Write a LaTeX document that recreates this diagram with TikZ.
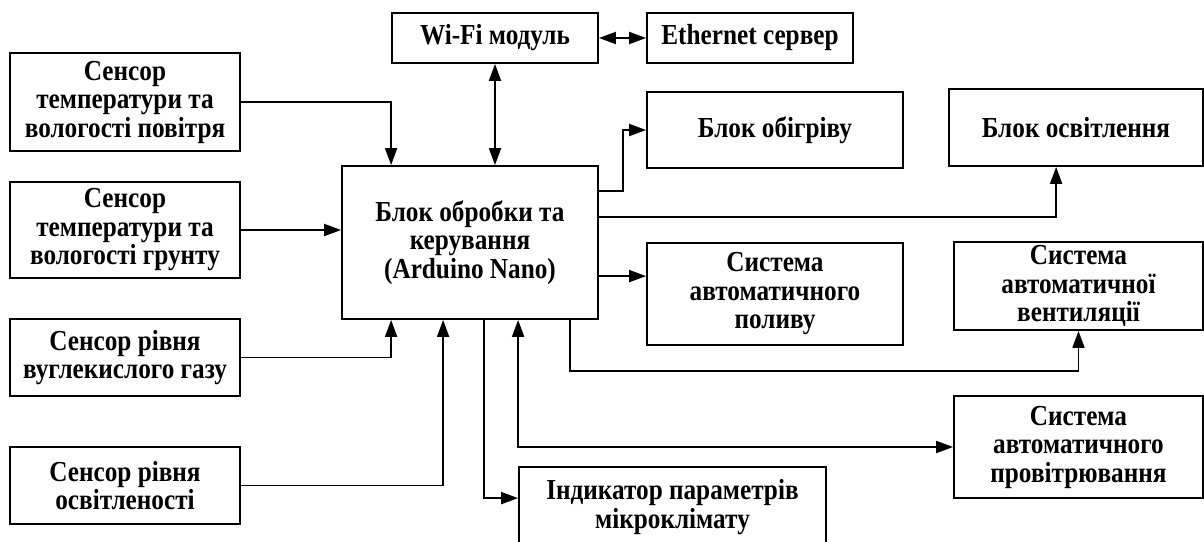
\documentclass[tikz,border=0pt]{standalone}
\usepackage{fontspec}
\setmainfont{Liberation Serif}[FakeStretch=0.87]
\usetikzlibrary{arrows.meta,calc}
\begin{document}
\begin{tikzpicture}[x=1pt,y=-1pt,
  box/.style={draw,line width=1.8pt,inner sep=0pt,align=center,
    font=\fontsize{29}{28.5}\selectfont\bfseries},
  arr/.style={line width=1.8pt,-{Triangle[length=17pt,width=12pt]}},
  darr/.style={line width=1.8pt,{Triangle[length=17pt,width=12pt]}-{Triangle[length=17pt,width=12pt]}}]
\useasboundingbox (0,0) rectangle (1204,541);
\begin{scope}
\clip (0,0) rectangle (1204,541);
% network modules
\node[box,minimum width=206pt,minimum height=50pt] (wifi) at (495,38) {Wi-Fi модуль};
\node[box,minimum width=206pt,minimum height=50pt] (eth) at (750,38) {Ethernet сервер};
% sensors
\node[box,minimum width=230pt,minimum height=98pt] (s1) at (125,102) {Сенсор\\температури та\\вологості повітря};
\node[box,minimum width=230pt,minimum height=96pt] (s2) at (125,230) {Сенсор\\температури та\\вологості грунту};
\node[box,minimum width=230pt,minimum height=77pt] (s3) at (125,357.5) {Сенсор рівня\\вуглекислого газу};
\node[box,minimum width=230pt,minimum height=77pt] (s4) at (125,485.5) {Сенсор рівня\\освітленості};
% controller
\node[box,minimum width=256pt,minimum height=153pt] (main) at (470,242.5) {Блок обробки та\\керування\\(Arduino Nano)};
% actuators
\node[box,minimum width=256pt,minimum height=76pt] (heat) at (775,130) {Блок обігріву};
\node[box,minimum width=254pt,minimum height=77pt] (light) at (1076,127.5) {Блок освітлення};
\node[box,minimum width=256pt,minimum height=102pt] (water) at (775,294) {Система\\автоматичного\\поливу};
\node[box,minimum width=249pt,minimum height=88pt] (vent) at (1078.5,286) {Система\\автоматичної\\вентиляції};
\node[box,minimum width=249pt,minimum height=102pt] (prov) at (1078.5,447) {Система\\автоматичного\\провітрювання};
\node[box,minimum width=307pt,minimum height=80pt] (ind) at (672.5,507) {Індикатор параметрів\\мікроклімату};
\end{scope}
% links
\draw[darr] (wifi.east) -- (eth.west);
\draw[darr] (wifi.south) -- (wifi.south |- main.north);
\draw[arr] (s1.east) -| ($(main.north west)+(50,0)$);
\draw[arr] (s2.east) -- (s2.east -| main.west);
\draw[arr] (s3.east) -| ($(main.south west)+(50,0)$);
\draw[arr] (s4.east) -| ($(main.south west)+(102,0)$);
\draw[arr] ($(main.south west)+(143,0)$) |- ($(ind.north west)+(0,32)$);
\draw[darr] ($(main.south west)+(177,0)$) |- (prov.west);
\draw[arr] ($(main.south west)+(229,0)$) -- ++(0,51) -| (vent.south);
\draw[arr] ($(main.north east)+(0,26)$) -- ++(24,0) |- (heat.west);
\draw[arr] ($(main.north east)+(0,52)$) -| ($(light.south west)+(108,0)$);
\draw[arr] ($(main.north east)+(0,111)$) coordinate (w0) -- (w0 -| water.west);
\end{tikzpicture}
\end{document}
